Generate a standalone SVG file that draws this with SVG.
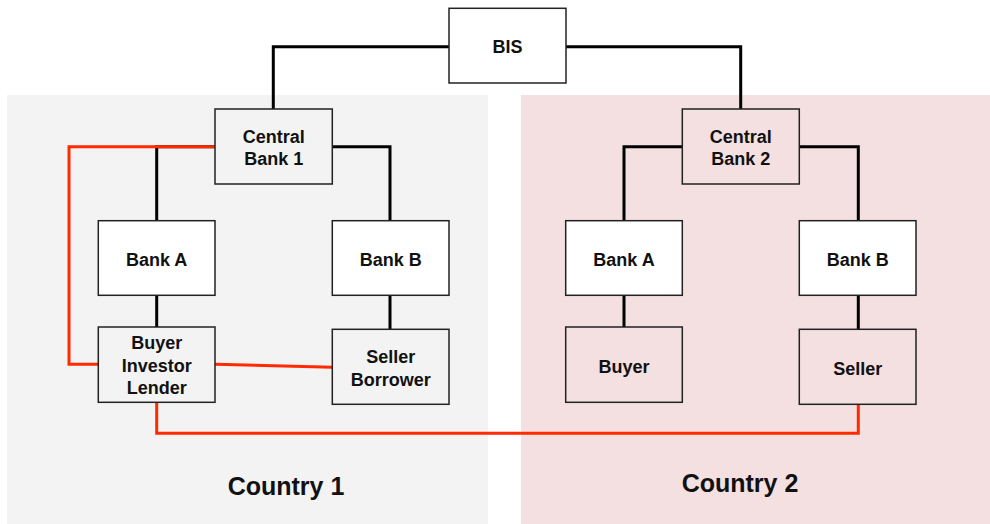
<svg xmlns="http://www.w3.org/2000/svg" width="990" height="524" viewBox="0 0 990 524">
  <style>
    .node rect { fill: #ffffff; stroke: #222222; stroke-width: 1.5; }
    .node.tinted1 rect { fill: #f3f3f3; }
    .node.tinted2 rect { fill: #f4e0e0; }
    .node text { font-family: "Liberation Sans", Arial, sans-serif; font-weight: bold; font-size: 18px; fill: #111111; text-anchor: middle; }
    .link { fill: none; stroke: #000000; stroke-width: 3; }
    .flow { fill: none; stroke: #ff2a00; stroke-width: 3; }
    .country { font-family: "Liberation Sans", Arial, sans-serif; font-weight: bold; font-size: 25px; fill: #111111; text-anchor: middle; }
  </style>

  <!-- country panels -->
  <g id="country1">
    <rect x="7" y="95" width="481" height="429" fill="#f3f3f3"/>
    <text class="country" x="286" y="495">Country 1</text>
  </g>
  <g id="country2">
    <rect x="521" y="95" width="469" height="429" fill="#f4e0e0"/>
    <text class="country" x="740" y="492">Country 2</text>
  </g>

  <!-- connectors -->
  <g id="connectors">
    <path class="link" d="M449,46.7 H273.3 V109"/>
    <path class="link" d="M566,46.7 H740.7 V109"/>
    <path class="link" d="M215,146.7 H156.7 V220.7"/>
    <path class="link" d="M332.3,146.7 H390 V220.7"/>
    <path class="link" d="M682.3,146.7 H624 V220.7"/>
    <path class="link" d="M799.3,146.7 H858.3 V220.7"/>
    <path class="link" d="M156.7,295.3 V327"/>
    <path class="link" d="M390,295.3 V329.3"/>
    <path class="link" d="M624,295.3 V327"/>
    <path class="link" d="M858.3,295.3 V329.3"/>
    <path class="flow" d="M215,146.7 H69 V364.3 H98.3"/>
    <path class="flow" d="M215,364.3 L332.3,367.3"/>
    <path class="flow" d="M156.7,402.3 V433.3 H858.3 V404.3"/>
  </g>

  <g id="bis" class="node">
    <rect x="449" y="8.3" width="117" height="74.7"/>
    <text x="507.5" y="53.3">BIS</text>
  </g>

  <g id="central-bank-1" class="node tinted1">
    <rect x="215" y="109" width="117.3" height="75"/>
    <text x="273.7" y="143.3">Central</text>
    <text x="273.7" y="165">Bank 1</text>
  </g>
  <g id="bank-a-1" class="node">
    <rect x="98.3" y="220.7" width="116.7" height="74.6"/>
    <text x="156.7" y="266">Bank A</text>
  </g>
  <g id="bank-b-1" class="node">
    <rect x="332.3" y="220.7" width="116.7" height="74.6"/>
    <text x="390.7" y="266">Bank B</text>
  </g>
  <g id="buyer-investor-lender" class="node tinted1">
    <rect x="98.3" y="327" width="116.7" height="75.3"/>
    <text x="156.7" y="349.3">Buyer</text>
    <text x="156.7" y="372.3">Investor</text>
    <text x="156.7" y="394">Lender</text>
  </g>
  <g id="seller-borrower" class="node tinted1">
    <rect x="332.3" y="329.3" width="116.7" height="75"/>
    <text x="390.7" y="362.7">Seller</text>
    <text x="390.7" y="385.7">Borrower</text>
  </g>

  <g id="central-bank-2" class="node tinted2">
    <rect x="682.3" y="109" width="117" height="75"/>
    <text x="740.8" y="143.3">Central</text>
    <text x="740.8" y="165">Bank 2</text>
  </g>
  <g id="bank-a-2" class="node">
    <rect x="565.7" y="220.7" width="116.6" height="74.6"/>
    <text x="624" y="266">Bank A</text>
  </g>
  <g id="bank-b-2" class="node">
    <rect x="799.3" y="220.7" width="116.7" height="74.6"/>
    <text x="857.7" y="266">Bank B</text>
  </g>
  <g id="buyer" class="node tinted2">
    <rect x="565.7" y="327" width="116.6" height="75.3"/>
    <text x="624" y="372.7">Buyer</text>
  </g>
  <g id="seller" class="node tinted2">
    <rect x="799.3" y="329.3" width="116.7" height="75"/>
    <text x="857.7" y="375">Seller</text>
  </g>
</svg>
